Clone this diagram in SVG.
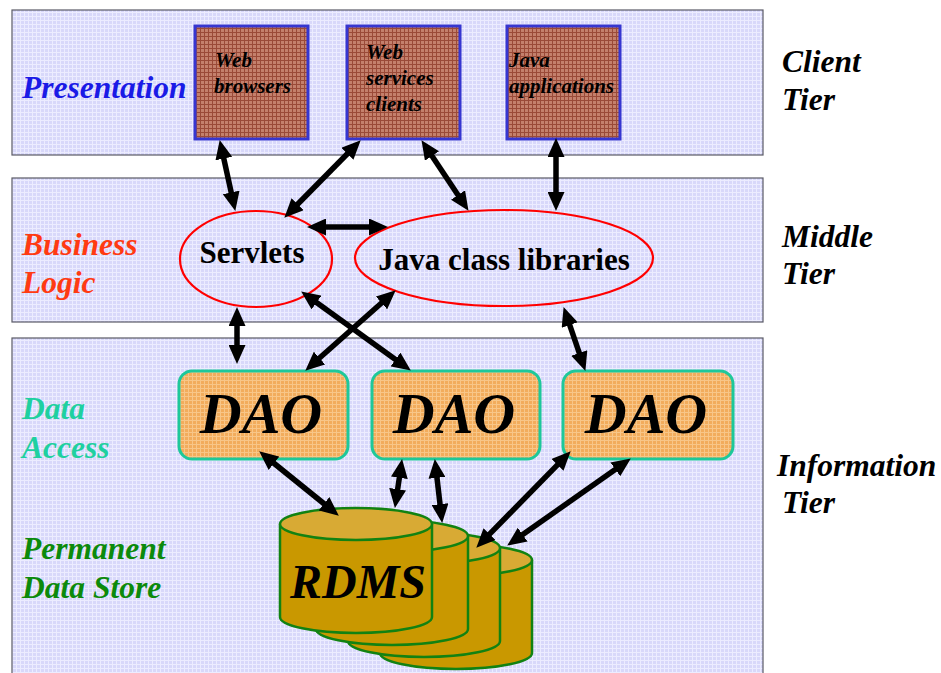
<svg xmlns="http://www.w3.org/2000/svg" width="941" height="673" viewBox="0 0 941 673">
  <defs>
    <!-- fine grid fills -->
    <pattern id="gridLav" width="4" height="4" patternUnits="userSpaceOnUse">
      <rect width="4" height="4" fill="#d8d8fa"/>
      <path d="M0,0.5 H4 M0.5,0 V4" stroke="#ececff" stroke-width="1"/>
    </pattern>
    <pattern id="gridBrown" width="4" height="4" patternUnits="userSpaceOnUse">
      <rect width="4" height="4" fill="#c4806c"/>
      <path d="M0,0.5 H4 M0.5,0 V4" stroke="#9a4a38" stroke-width="1"/>
    </pattern>
    <pattern id="gridOrange" width="4" height="4" patternUnits="userSpaceOnUse">
      <rect width="4" height="4" fill="#f2ac5c"/>
      <path d="M0,0.5 H4 M0.5,0 V4" stroke="#f8c688" stroke-width="1"/>
    </pattern>
    <marker id="head" viewBox="0 0 19 17" markerWidth="19" markerHeight="17" refX="6" refY="8.5" markerUnits="userSpaceOnUse" orient="auto-start-reverse">
      <path d="M0,0 L19,8.5 L0,17 z" fill="#000"/>
    </marker>
  </defs>
  <style>
    .band { fill: url(#gridLav); stroke: #5a5a66; stroke-width: 1.2; }
    .client { fill: url(#gridBrown); stroke: #3636d0; stroke-width: 3; }
    .small { font-family: "Liberation Serif", serif; font-size: 21px; font-weight: bold; font-style: italic; fill: #000; }
    .lbl { font-family: "Liberation Serif", serif; font-size: 31.5px; font-weight: bold; font-style: italic; }
    .comp { fill: none; stroke: #ff0000; stroke-width: 2.2; }
    .compText { font-family: "Liberation Serif", serif; font-size: 31px; font-weight: bold; fill: #000; text-anchor: middle; }
    .dao { fill: url(#gridOrange); stroke: #1ec89a; stroke-width: 3; }
    .daoText { font-family: "Liberation Serif", serif; font-size: 58px; font-weight: bold; font-style: italic; fill: #000; text-anchor: middle; }
    .cylBody { fill: #c99800; stroke: #128212; stroke-width: 2.5; }
    .cylTop { fill: #d8aa34; stroke: #128212; stroke-width: 2.5; }
    .conn { stroke: #000; stroke-width: 5.5; fill: none; marker-start: url(#head); marker-end: url(#head); }
  </style>

  <rect width="941" height="673" fill="#ffffff"/>

  <!-- tier bands -->
  <g id="bands">
    <rect class="band" x="12" y="10" width="751" height="145"/>
    <rect class="band" x="12" y="178" width="751" height="144"/>
    <rect class="band" x="12" y="338" width="751" height="345"/>
  </g>

  <!-- layer labels -->
  <g id="layer-labels" class="lbl">
    <text x="22" y="98" fill="#1a1ae6">Presentation</text>
    <text x="22" y="255" fill="#ff3a12">Business</text>
    <text x="22" y="293" fill="#ff3a12">Logic</text>
    <text x="22" y="419" fill="#1fd0a0">Data</text>
    <text x="22" y="458" fill="#1fd0a0">Access</text>
    <text x="22" y="559" fill="#0c8a0c">Permanent</text>
    <text x="22" y="598" fill="#0c8a0c">Data Store</text>
  </g>

  <!-- tier labels -->
  <g id="tier-labels" class="lbl" fill="#000">
    <text x="782" y="72">Client</text>
    <text x="782" y="110">Tier</text>
    <text x="782" y="247">Middle</text>
    <text x="782" y="284">Tier</text>
    <text x="777" y="476">Information</text>
    <text x="782" y="513">Tier</text>
  </g>

  <!-- client tier -->
  <g id="web-browsers">
    <rect class="client" x="195" y="26" width="113" height="113"/>
    <text class="small" x="215" y="67">Web</text>
    <text class="small" x="214" y="93">browsers</text>
  </g>
  <g id="web-services-clients">
    <rect class="client" x="347" y="26" width="113" height="113"/>
    <text class="small" x="366" y="59">Web</text>
    <text class="small" x="366" y="85">services</text>
    <text class="small" x="366" y="111">clients</text>
  </g>
  <g id="java-applications">
    <rect class="client" x="507" y="26" width="113" height="113"/>
    <text class="small" x="509" y="67">Java</text>
    <text class="small" x="509" y="93">applications</text>
  </g>

  <!-- middle tier -->
  <g id="servlets">
    <ellipse class="comp" cx="256" cy="259" rx="76" ry="48"/>
    <text class="compText" x="252" y="263">Servlets</text>
  </g>
  <g id="java-class-libraries">
    <ellipse class="comp" cx="504" cy="258" rx="149" ry="48"/>
    <text class="compText" x="504" y="270">Java class libraries</text>
  </g>

  <!-- data access objects -->
  <g id="dao-1">
    <rect class="dao" x="179" y="371" width="169" height="88" rx="13"/>
    <text class="daoText" x="261" y="433">DAO</text>
  </g>
  <g id="dao-2">
    <rect class="dao" x="372" y="371" width="168" height="88" rx="13"/>
    <text class="daoText" x="454" y="433">DAO</text>
  </g>
  <g id="dao-3">
    <rect class="dao" x="563" y="371" width="170" height="88" rx="13"/>
    <text class="daoText" x="646" y="433">DAO</text>
  </g>

  <!-- database stack, back to front -->
  <g id="rdms">
    <path class="cylBody" d="M380,560 V653 A76,16 0 0 0 532,653 V560"/>
    <ellipse class="cylTop" cx="456" cy="560" rx="76" ry="16"/>
    <path class="cylBody" d="M348,548 V641 A76,16 0 0 0 500,641 V548"/>
    <ellipse class="cylTop" cx="424" cy="548" rx="76" ry="16"/>
    <path class="cylBody" d="M316,536 V629 A76,16 0 0 0 468,629 V536"/>
    <ellipse class="cylTop" cx="392" cy="536" rx="76" ry="16"/>
    <path class="cylBody" d="M280,524 V617 A76,16 0 0 0 432,617 V524"/>
    <ellipse class="cylTop" cx="356" cy="524" rx="76" ry="16"/>
    <text x="358" y="598" font-family="Liberation Serif, serif" font-size="48" font-weight="bold" font-style="italic" text-anchor="middle" fill="#000">RDMS</text>
  </g>

  <!-- connectors -->
  <g id="connectors" class="conn">
    <line x1="222.5" y1="152.7" x2="232.5" y2="198.3"/>
    <line x1="351.6" y1="149.5" x2="293.4" y2="208.5"/>
    <line x1="428.7" y1="151" x2="461.3" y2="200"/>
    <line x1="556" y1="151" x2="556" y2="198"/>
    <line x1="320" y1="227" x2="375" y2="227"/>
    <line x1="237" y1="320" x2="237" y2="351"/>
    <line x1="311.7" y1="299" x2="400.3" y2="363"/>
    <line x1="386" y1="299" x2="315" y2="362"/>
    <line x1="567.8" y1="319.4" x2="581.2" y2="358.6"/>
    <line x1="269.3" y1="459.5" x2="328.7" y2="507.5"/>
    <line x1="400.2" y1="471.9" x2="396.8" y2="495.1"/>
    <line x1="436.3" y1="471.9" x2="440.7" y2="510.1"/>
    <line x1="561.6" y1="460.6" x2="485.4" y2="538.4"/>
    <line x1="620.2" y1="465.9" x2="517.8" y2="538.1"/>
  </g>
</svg>
